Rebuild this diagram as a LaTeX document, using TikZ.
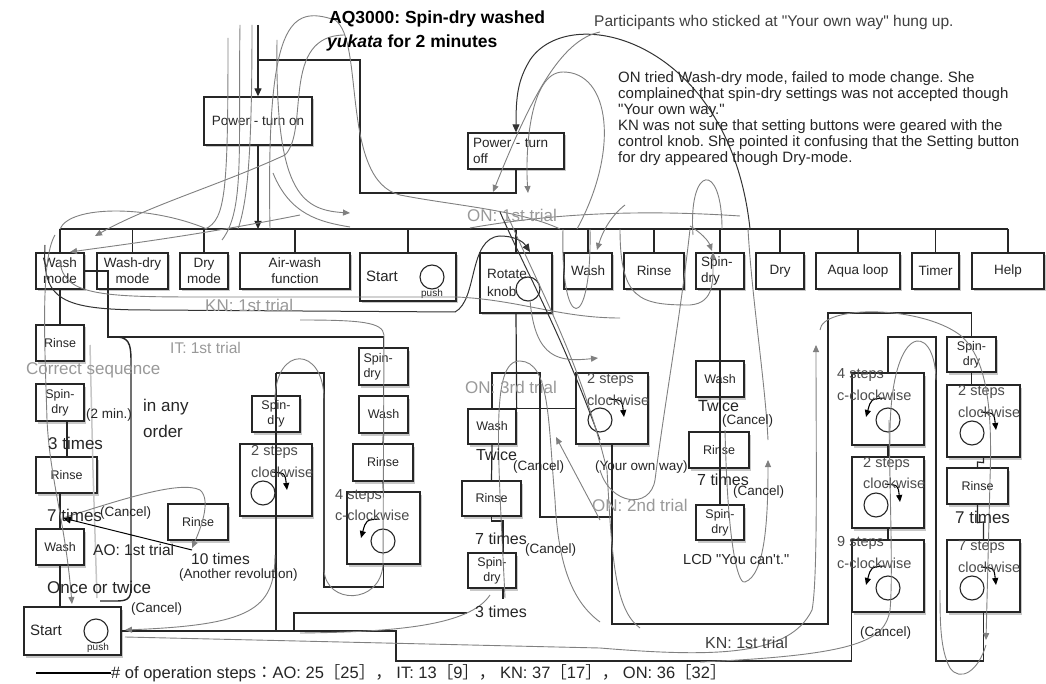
\documentclass[tikz,border=0pt]{standalone}
\usepackage{fontspec}
\setmainfont{Liberation Sans}[Ligatures=TeXOff]
\newfontfamily\cjkf{Noto Sans CJK JP}
\usetikzlibrary{arrows.meta,shadows,calc}
\newcommand\fs[2]{\fontsize{#1}{#2}\selectfont}
\newcommand\bx[7]{\node[box,minimum width={#4-#2},minimum height={#5-#3},#6] (#1) at ({(#2+#4)/2},{(#3+#5)/2}) {#7};}
\newcommand\cwa[1]{\draw[rotarr] ($(#1)+(9,-21)$) .. controls ($(#1)+(22,-20)$) .. ($(#1)+(24,-3)$);}
\newcommand\ccwa[1]{\draw[rotarr] ($(#1)+(-4,-22)$) .. controls ($(#1)+(-17,-21)$) .. ($(#1)+(-22,-3)$);}
\frenchspacing
\begin{document}
\begin{tikzpicture}[x=1pt,y=-1pt,
 box/.style={draw=black!85,line width=1.3pt,fill=white,inner sep=1pt,align=center,font=\fs{13.5}{16},text=black!85,drop shadow={shadow xshift=1.5pt,shadow yshift=-2.5pt,opacity=.3,fill=black!70}},
 sbox/.style={font=\fs{12.5}{15}},
 lft/.style={align=left,text width=#1},
 trl/.style={line width=1.2pt,draw=black!85},
 btip/.style={-{Triangle[length=8pt,width=7pt]}},
 gc/.style={draw=black!50,line width=0.9pt},
 gca/.style={gc,-{Triangle[length=7pt,width=6pt]}},
 bc/.style={draw=black!80,line width=1pt},
 knobc/.style={circle,draw=black!85,line width=1.1pt,minimum size=24pt,inner sep=0pt},
 rotarr/.style={line width=1.1pt,-{Triangle[length=7pt,width=6pt]}},
 lbl/.style={anchor=west,inner sep=0pt,text=black!85},
 glbl/.style={anchor=west,inner sep=0pt,text=black!40,font=\fs{17}{19}},
 stt/.style={lbl,text=black!70,font=\fs{14.5}{16}},
]
\fill[white] (0,0) rectangle (1046,684);
\useasboundingbox (0,0) rectangle (1046,684);

% ---------- boxes ----------
\bx{pwron}{204}{97}{312}{145}{}{Power - turn on}
\bx{pwroff}{468}{133}{564}{169}{lft=86}{Power - turn\\off}
\bx{washmode}{36}{253}{84}{289}{}{Wash\\mode}
\bx{washdry}{97}{253}{168}{289}{}{Wash-dry\\mode}
\bx{drymode}{180}{253}{228}{289}{}{Dry\\mode}
\bx{airwash}{240}{253}{350}{289}{}{Air-wash\\function}
\bx{startT}{360}{253}{456}{301}{}{}
\bx{knob}{480}{253}{552}{313}{}{}
\bx{washT}{564}{253}{612}{289}{}{Wash}
\bx{rinseT}{624}{253}{684}{289}{}{Rinse}
\bx{spinT}{696}{253}{744}{289}{lft=38}{Spin-\\dry}
\bx{dryT}{756}{253}{804}{289}{}{Dry}
\bx{aqua}{816}{253}{900}{289}{}{Aqua loop}
\bx{timer}{912}{253}{959}{289}{}{Timer}
\bx{help}{972}{253}{1044}{289}{}{Help}
% left column
\bx{rinseL1}{36}{325}{84}{361}{sbox}{Rinse}
\bx{spinL}{36}{384}{84}{421}{sbox}{Spin-\\dry}
\bx{rinseL2}{36}{457}{97}{493}{sbox}{Rinse}
\bx{washL}{36}{529}{84}{565}{sbox}{Wash}
\bx{startL}{24}{607}{121}{655}{}{}
\bx{rinseM}{168}{504}{228}{540}{sbox}{Rinse}
% IT column
\bx{spinIT}{252}{396}{300}{432}{sbox}{Spin-\\dry}
\bx{stepsIT}{240}{444}{312}{516}{}{}
% KN middle column
\bx{spinK}{359}{348}{408}{385}{sbox,lft=40}{Spin-\\dry}
\bx{washK}{359}{396}{408}{433}{sbox}{Wash}
\bx{rinseK}{353}{444}{413}{481}{sbox}{Rinse}
\bx{stepsK}{347}{492}{420}{564}{}{}
% ON 3rd trial
\bx{washO3}{468}{409}{516}{444}{sbox}{Wash}
\bx{rinseO3}{462}{481}{521}{516}{sbox}{Rinse}
\bx{spinO3}{468}{553}{516}{588}{sbox}{Spin-\\dry}
\bx{stepsO}{576}{373}{648}{444}{}{}
% ON right column
\bx{washO}{696}{361}{744}{397}{sbox}{Wash}
\bx{rinseO}{689}{432}{749}{468}{sbox}{Rinse}
\bx{spinO}{696}{505}{744}{540}{sbox}{Spin-\\dry}
% KN right columns
\bx{stepsA}{852}{373}{924}{445}{}{}
\bx{stepsB}{852}{457}{924}{528}{}{}
\bx{stepsC}{852}{540}{924}{612}{}{}
\bx{spinR}{947}{337}{996}{372}{sbox}{Spin-\\dry}
\bx{stepsD}{947}{385}{1020}{457}{}{}
\bx{rinseR}{947}{468}{1008}{504}{sbox}{Rinse}
\bx{stepsE}{947}{540}{1020}{612}{}{}

% ---------- knobs ----------
\node[knobc] (cT) at (432,277) {};
\node[knobc] (cK) at (528,289) {};
\node[knobc] (cL) at (96,631) {};
\node[knobc] (cIT) at (263,493) {};
\node[knobc] (cKN) at (383,541) {};
\node[knobc] (cO) at (600,420) {};
\node[knobc] (cA) at (888,420) {};
\node[knobc] (cB) at (876,505) {};
\node[knobc] (cC) at (888,588) {};
\node[knobc] (cD) at (972,433) {};
\node[knobc] (cE) at (972,588) {};
\cwa{cIT} \ccwa{cKN} \cwa{cO} \ccwa{cA} \cwa{cB} \ccwa{cC} \cwa{cD} \cwa{cE}

% texts inside boxes
\node[lbl,font=\fs{15}{17}] (tS1) at (366,276) {Start};
\node[inner sep=0,font=\fs{10}{11},text=black!85] (tP1) at (432,294) {push};
\node[lbl,font=\fs{13.5}{15}] (tR1) at (487,274) {Rotate};
\node[lbl,font=\fs{13.5}{15}] (tR2) at (487,292) {knob};
\node[lbl,font=\fs{15}{17}] (tS2) at (30,630) {Start};
\node[inner sep=0,font=\fs{10}{11},text=black!85] (tP2) at (98,648) {push};
\node[stt] (s1) at (251,452) {2 steps};
\node[stt] (s2) at (251,472) {clockwise};
\node[stt] (s3) at (335,496) {4 steps};
\node[stt] (s4) at (335,515) {c-clockwise};
\node[stt] (s5) at (587,380) {2 steps};
\node[stt] (s6) at (587,400) {clockwise};
\node[stt] (s7) at (837,375) {4 steps};
\node[stt] (s8) at (837,395) {c-clockwise};
\node[stt] (s9) at (863,464) {2 steps};
\node[stt] (s10) at (863,483) {clockwise};
\node[stt] (s11) at (837,543) {9 steps};
\node[stt] (s12) at (837,563) {c-clockwise};
\node[stt] (s13) at (958,392) {2 steps};
\node[stt] (s14) at (958,412) {clockwise};
\node[stt] (s15) at (958,547) {7 steps};
\node[stt] (s16) at (958,567) {clockwise};

% ---------- tree lines ----------
\coordinate (top) at (258,25);
\coordinate (bj) at (258,229);
\coordinate (bL) at (60,229);
\coordinate (bR) at (1008,229);
\draw[trl] (bL) -- (bR);
\draw[trl,btip] (top) -- (pwron.north);
\draw[trl,btip] (pwron.south) -- (bj);
\draw[trl] (258,60) -- (360,60) -- (360,193) -- (pwroff.south |- 0,193) -- (pwroff.south);
\foreach \n in {washmode,washdry,drymode,airwash,startT,knob,washT,rinseT,spinT,dryT,aqua,timer,help}
  \draw[trl] (\n.north) -- (\n.north |- bL);
\draw[trl] (washmode.south) -- (rinseL1.north);
\draw[trl] ([xshift=7pt]spinL.south) -- ([xshift=7pt]spinL.south |- rinseL2.north);
\draw[trl] (washL.north |- rinseL2.south) -- (washL.north);
\draw[trl] (washL.south) -- (washL.south |- startL.north);
\draw[trl] (washmode.east) -- (108,271) -- (108,337) -- (spinK.north |- 0,337) -- (spinK.north);
\draw[trl] (spinK.south) -- (washK.north);
\draw[trl] (washK.south) -- (rinseK.north);
\draw[trl] (rinseK.south) -- (stepsK.north);
\draw[trl] (spinIT.north |- 0,373) -- (324,373) -- (324,587) -- (stepsK.south |- 0,587) -- (stepsK.south);
\draw[trl] (spinIT.north |- 0,373) -- (spinIT.north |- startL.east);
\draw[trl] (startL.east) -- (396,631) -- (396,661) -- (stepsC.south west |- 0,661) -- (stepsC.south west);
\draw[trl] (294,631) -- (294,613) -- (467,613);
\draw[trl] ([xshift=11pt]spinO3.south) -- ++(0,10);
\draw[trl] (knob.south) -- (washO3.north east);
\draw[trl] (washO3.north) -- (492,373) -- (540,373) -- (540,517) -- (612,517);
\draw[trl] (washO3.north east) -- (stepsO.west |- washO3.north east);
\draw[trl] (washO3.south) -- (rinseO3.north);
\draw[trl] (rinseO3.south) -- (491.5,521) -- (503,521) -- (spinO3.north -| 503,0);
\draw[trl] (stepsO.south) -- (612,624) -- (828,624) -- (828,313) -- (spinR.north |- 0,313) -- (spinR.north);
\draw[trl] (stepsA.north) -- (888,337) -- (936,337) -- (936,661) -- (stepsE.south |- 0,661) -- (stepsE.south);
\draw[trl] (stepsA.south) -- (stepsB.north);
\draw[trl] (stepsB.south) -- (stepsC.north);
\draw[trl] (spinR.south) -- (spinR.south |- stepsD.north);
\draw[trl] (stepsD.south) -- ++(0,5) -- (977.5,462) -- (rinseR.north);
\draw[trl] (rinseR.south) -- ++(0,18) -- (983.5,522) -- (stepsE.north);
\draw[trl] (spinT.south) -- (spinO.north);
% in any order bracket
\draw[draw=black!22,line width=1.5pt] (90,345) -- (93,470) -- (97,598);
\draw[line width=1.4pt,draw=black!85] (118,337) .. controls (131,338) and (131,348) .. (131,365) -- (131,588) .. controls (131,600) and (126,601) .. (115,601) -- (100,601);

% ---------- traces ----------
\draw[gc] (228,38) .. controls (228,190) and (226,220) .. (205,229);
\draw[gc] (240,25) .. controls (238,150) and (245,210) .. (222,240);
\draw[gc] (252,25) .. controls (252,150) and (248,200) .. (238,229);
\draw[gca] (277,40) .. controls (275,190) and (300,210) .. (350,213);
\draw[gc] (270,229) .. controls (266,20) and (290,5) .. (335,20) .. controls (365,40) and (340,180) .. (400,195) .. controls (450,205) and (520,210) .. (560,229);
\draw[gca] (345,35) .. controls (280,35) and (310,130) .. (285,155) .. controls (220,185) and (150,205) .. (95,236);
\draw[gc] (60,229) .. controls (70,205) and (150,205) .. (207,229);
\draw[gc] (273,173) .. controls (290,215) and (320,222) .. (350,227);
\draw[bc,btip] (750,229) .. controls (730,40) and (570,0) .. (530,60) .. controls (518,80) and (516,95) .. (pwroff.north);
\draw[gca] (600,32) .. controls (560,40) and (530,100) .. (493,192);
\draw[gca] (577,229) .. controls (620,150) and (610,72) .. (563,72) .. controls (530,72) and (525,150) .. (528,193);
\draw[gc] (470,228) .. controls (560,212) and (650,210) .. (740,216);
\draw[bc,btip] (45,245) .. controls (42,300) and (60,310) .. (150,310) -- (455,312) .. controls (478,300) and (468,238) .. (500,236) .. controls (512,236) and (522,240) .. (530,252);
\draw[gc] (60,260) .. controls (62,295) and (100,297) .. (200,297) -- (457,297) .. controls (520,300) and (560,318) .. (620,318);
\draw[gca] (620,229) .. controls (620,300) and (640,305) .. (690,305) .. controls (715,303) and (713,280) .. (713,252);
\draw[gc] (563,229) .. controls (560,335) and (592,335) .. (590,229);
\draw[gca] (625,205) .. controls (612,215) and (603,230) .. (597,250);
\draw[bc] (500,212) .. controls (530,280) and (560,330) .. (600,440);
\draw[gc] (506,212) .. controls (540,290) and (580,360) .. (607,470) .. controls (612,560) and (615,610) .. (640,628);
\draw[gca] (530,300) .. controls (535,360) and (560,362) .. (598,358);
\draw[gc] (505,598) .. controls (498,450) and (490,360) .. (520,361) .. controls (550,362) and (548,420) .. (555,500) .. controls (558,560) and (570,600) .. (600,622);
\draw[gca] (600,520) -- (556,437);
\draw[gc] (600,470) .. controls (610,505) and (650,510) .. (655,480) .. controls (665,400) and (680,320) .. (690,229);
\draw[gca] (125,637) -- (600,648) .. controls (720,658) and (790,655) .. (812,610) .. controls (818,580) and (816,450) .. (816,345);
\draw[gca] (820,330) .. controls (822,305) and (920,305) .. (960,335) .. controls (990,360) and (992,420) .. (990,480) -- (986,640);
\draw[gc] (986,645) .. controls (978,672) and (960,682) .. (950,668) .. controls (940,650) and (940,620) .. (940,590);
\draw[gc] (890,445) .. controls (888,320) and (935,320) .. (936,380);
\draw[gc] (889,420) .. controls (890,500) and (893,580) .. (890,610) .. controls (885,640) and (860,655) .. (700,662);
\draw[gca] (725,430) .. controls (728,560) and (740,585) .. (745,582) .. controls (765,575) and (768,520) .. (768,460);
\draw[gc] (748,229) .. controls (752,300) and (765,380) .. (768,440);
\draw[gc] (693,235) .. controls (688,165) and (722,160) .. (722,229);
\draw[gca] (690,226) .. controls (700,232) and (708,240) .. (712,251);
\draw[gca] (55,235) .. controls (40,260) and (45,350) .. (47,420) .. controls (50,480) and (65,520) .. (72,604);
\draw[gca] (300,215) .. controls (200,235) and (120,245) .. (70,252);
\draw[line width=1pt,btip] (192,550) -- (63,518);
\draw[gca] (63,518) .. controls (120,500) and (180,480) .. (200,490) .. controls (212,500) and (200,530) .. (192,548);
\draw[gca] (275,555) .. controls (275,610) and (250,625) .. (125,630);
\draw[gc] (490,595) .. controls (470,625) and (400,632) .. (300,633);
\draw[gc] (275,400) .. controls (275,345) and (324,345) .. (324,400) -- (324,570) .. controls (326,605) and (380,605) .. (383,565) -- (384,335) .. controls (383,322) and (360,320) .. (300,320);

% ---------- labels ----------
\node[lbl,font=\bfseries\fs{17.5}{20},text=black] (ti1) at (329,19) {AQ3000: Spin-dry washed};
\node[lbl,font=\bfseries\fs{17.5}{20},text=black] (ti2) at (327,43) {\textit{yukata} for 2 minutes};
\node[lbl,font=\fs{15.5}{18},text=black!75] (part) at (594,22) {Participants who sticked at "Your own way" hung up.};
\node[anchor=north west,inner sep=0pt,align=left,font=\fs{15}{16},text=black!85] (desc) at (618,71) {ON tried Wash-dry mode, failed to mode change. She\\complained that spin-dry settings was not accepted though\\"Your own way."\\KN was not sure that setting buttons were geared with the\\control knob. She pointed it confusing that the Setting button\\for dry appeared though Dry-mode.};
\node[glbl] (g1) at (467,215) {ON: 1st trial};
\node[glbl] (g2) at (205,305) {KN: 1st trial};
\node[glbl,font=\fs{15.5}{18}] (g3) at (170,348) {IT: 1st trial};
\node[glbl] (g4) at (26,370) {Correct sequence};
\node[glbl] (g5) at (465,387) {ON: 3rd trial};
\node[glbl] (g6) at (592,505) {ON: 2nd trial};
\node[lbl,font=\fs{13.5}{15}] (l1) at (86,415) {(2 min.)};
\node[lbl,font=\fs{17}{19}] (l2) at (143,407) {in any};
\node[lbl,font=\fs{17}{19}] (l3) at (143,431) {order};
\node[lbl,font=\fs{17}{19}] (l4) at (48,443) {3 times};
\node[lbl,font=\fs{17}{19}] (l5) at (47,515) {7 times};
\node[lbl,font=\fs{13.5}{15}] (l6) at (100,513) {(Cancel)};
\node[lbl,font=\fs{15.5}{18}] (l7) at (93,550) {AO: 1st trial};
\node[lbl,font=\fs{17}{19}] (l8) at (47,587) {Once or twice};
\node[lbl,font=\fs{13.5}{15}] (l9) at (131,609) {(Cancel)};
\node[lbl,font=\fs{15.5}{18}] (l10) at (191,559) {10 times};
\node[lbl,font=\fs{13.5}{15}] (l11) at (179,575) {(Another revolution)};
\node[lbl,font=\fs{16}{18}] (l12) at (476,455) {Twice};
\node[lbl,font=\fs{13.5}{15}] (l13) at (513,467) {(Cancel)};
\node[lbl,font=\fs{16}{18}] (l14) at (475,539) {7 times};
\node[lbl,font=\fs{13.5}{15}] (l15) at (525,550) {(Cancel)};
\node[lbl,font=\fs{16}{18}] (l16) at (475,612) {3 times};
\node[lbl,font=\fs{13.5}{15}] (l17) at (595,467) {(Your own way)};
\node[lbl,font=\fs{16}{18}] (l18) at (698,406) {Twice};
\node[lbl,font=\fs{13.5}{15}] (l19) at (722,421) {(Cancel)};
\node[lbl,font=\fs{16}{18}] (l20) at (697,480) {7 times};
\node[lbl,font=\fs{13.5}{15}] (l21) at (733,492) {(Cancel)};
\node[lbl,font=\fs{14.5}{16}] (l22) at (683,560) {LCD "You can't."};
\node[lbl,font=\fs{17}{19}] (l23) at (955,517) {7 times};
\node[lbl,font=\fs{13.5}{15}] (l24) at (860,633) {(Cancel)};
\node[lbl,font=\fs{16}{18},text=black!75] (l25) at (705,643) {KN: 1st trial};
% legend
\coordinate (lg) at (36,673);
\node[lbl,font=\fs{16.5}{18}] (leg) at (111,673) {\#~of operation steps{\cjkf ：}AO: 25{\cjkf ［}25{\cjkf ］，}~IT: 13{\cjkf ［}9{\cjkf ］，}~KN: 37{\cjkf ［}17{\cjkf ］，}~ON: 36{\cjkf ［}32{\cjkf ］}};
\draw[line width=1.3pt] (lg) -- (leg.west);
\end{tikzpicture}
\end{document}
